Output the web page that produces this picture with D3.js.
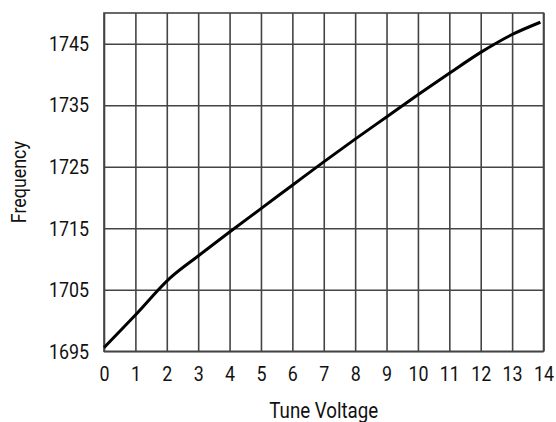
<!DOCTYPE html>
<html>
<head>
<meta charset="utf-8">
<script src="https://cdn.jsdelivr.net/npm/d3@7"></script>
<style>
  body { margin: 0; background: #fff; }
  text { font-family: Roboto, "Liberation Sans", sans-serif; fill: #111; }
</style>
</head>
<body>
<svg id="chart"></svg>
<script>
// tune voltage (V) and frequency
var voltage   = [0, 1, 2.1, 3, 4, 5, 6, 7, 8, 9, 10, 11, 12, 13, 13.9];
var frequency = [1695.6, 1700.9, 1706.9, 1710.5, 1714.4, 1718.2, 1722.0, 1725.8,
                 1729.5, 1733.1, 1736.7, 1740.2, 1743.6, 1746.5, 1748.5];
var xTicks = [0,1,2,3,4,5,6,7,8,9,10,11,12,13,14];
var yTicks = [1695, 1705, 1715, 1725, 1735, 1745];

var W = 556, H = 422;
var m = { left: 104, right: 543.5, top: 13, bottom: 351.3 };
var squeeze = 0.85;   // narrow the font to look condensed

var svg = d3.select('#chart')
    .attr('width', W)
    .attr('height', H);

var x = d3.scaleLinear().domain([0, 14]).range([m.left, m.right]);
var y = d3.scaleLinear().domain([1695, 1750]).range([m.bottom, m.top]);

var gridColor = '#444';

var gX = svg.append('g')
    .attr('transform', 'translate(0,' + m.bottom + ')')
    .call(d3.axisBottom(x).tickValues(xTicks).tickFormat(d3.format('d'))
      .tickSizeInner(-(m.bottom - m.top)).tickSizeOuter(0).tickPadding(15));
var gY = svg.append('g')
    .attr('transform', 'translate(' + m.left + ',0)')
    .call(d3.axisLeft(y).tickValues(yTicks).tickFormat(d3.format('d'))
      .tickSizeInner(-(m.right - m.left)).tickSizeOuter(0).tickPadding(15));

[gX, gY].forEach(function(g) {
  g.select('.domain').remove();
  g.selectAll('.tick line').attr('stroke', gridColor).attr('stroke-width', 1.6);
  g.selectAll('.tick text')
    .style('font-family', 'Roboto, sans-serif')
    .style('font-size', '21px')
    .attr('fill', '#111')
    .attr('transform', 'scale(' + squeeze + ',1)');
});
gY.selectAll('.tick text').attr('x', -15 / squeeze);

svg.append('rect')
    .attr('x', m.left).attr('y', m.top)
    .attr('width', m.right - m.left).attr('height', m.bottom - m.top)
    .attr('fill', 'none')
    .attr('stroke', gridColor)
    .attr('stroke-width', 1.6);

var pts = voltage.map(function(v, i) { return [v, frequency[i]]; });
var line = d3.line()
    .x(function(d) { return x(d[0]); })
    .y(function(d) { return y(d[1]); })
    .curve(d3.curveMonotoneX);

svg.append('path')
    .datum(pts)
    .attr('d', line)
    .attr('fill', 'none')
    .attr('stroke', '#000')
    .attr('stroke-width', 3);

svg.append('text')
    .attr('transform', 'translate(' + ((m.left + m.right) / 2) + ',418) scale(' + squeeze + ',1)')
    .attr('text-anchor', 'middle')
    .style('font-size', '22px')
    .text('Tune Voltage');

svg.append('text')
    .attr('transform', 'translate(26,' + ((m.top + m.bottom) / 2) + ') rotate(-90) scale(' + squeeze + ',1)')
    .attr('text-anchor', 'middle')
    .style('font-size', '21px')
    .text('Frequency');
</script>
</body>
</html>
